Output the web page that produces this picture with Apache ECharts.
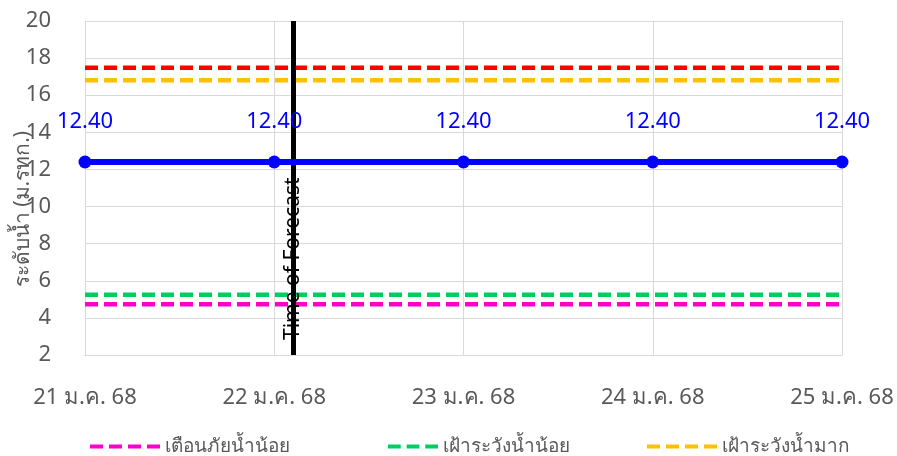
<!DOCTYPE html>
<html>
<head>
<meta charset="utf-8">
<script src="https://cdn.jsdelivr.net/npm/echarts@6/dist/echarts.min.js"></script>
<style>
html,body{margin:0;padding:0;background:#fff;}
#chart{width:897px;height:456px;}
</style>
</head>
<body>
<div id="chart"></div>
<script>
const dates = ['21 ม.ค. 68', '22 ม.ค. 68', '23 ม.ค. 68', '24 ม.ค. 68', '25 ม.ค. 68'];
const waterLevel = [12.40, 12.40, 12.40, 12.40, 12.40];
const lowWarning = [4.73, 4.73, 4.73, 4.73, 4.73];
const lowWatch = [5.25, 5.25, 5.25, 5.25, 5.25];
const highWatch = [16.81, 16.81, 16.81, 16.81, 16.81];
const highWarning = [17.48, 17.48, 17.48, 17.48, 17.48];
const forecastTime = 1.1;
const yTicks = [2, 4, 6, 8, 10, 12, 14, 16, 18, 20];

const FONT = '"Noto Sans", "Open Sans", sans-serif';
const toPts = arr => arr.map((v, i) => [i, v]);
const dash4 = 'path://M0 0H13V4H0Z M19 0H32V4H19Z M38 0H51V4H38Z M57 0H70V4H57Z';
const dash3 = 'path://M0 0H13V4H0Z M19 0H32V4H19Z M38 0H51V4H38Z';

const chart = echarts.init(document.getElementById('chart'));
const dashed = (name, color, data) => ({
  name, type: 'line', data: toPts(data), symbol: 'none', silent: true,
  lineStyle: { color, width: 4.5, type: [13, 6], cap: 'butt' },
  itemStyle: { color }, z: 2
});

chart.setOption({
  animation: false,
  textStyle: { fontFamily: FONT },
  grid: { left: 85, right: 55, top: 21, bottom: 101, containLabel: false, outerBoundsMode: 'none' },
  xAxis: {
    type: 'value', min: 0, max: dates.length - 1, interval: 1,
    axisLine: { show: true, lineStyle: { color: '#d9d9d9', width: 1 } },
    axisTick: { show: false },
    splitLine: { show: true, lineStyle: { color: '#d9d9d9', width: 1 } },
    axisLabel: {
      formatter: v => dates[v] || '', color: '#595959', fontSize: 22, margin: 32,
      fontFamily: FONT
    }
  },
  yAxis: {
    type: 'value', min: yTicks[0], max: yTicks[yTicks.length - 1], interval: 2,
    name: 'ระดับน้ำ (ม.รทก.)', nameLocation: 'middle', nameGap: 51, nameMoveOverlap: false,
    nameTextStyle: { color: '#595959', fontSize: 21, fontFamily: FONT, padding: [0, 42, 0, 0] },
    axisLine: { show: true, lineStyle: { color: '#d9d9d9' } },
    axisTick: { show: false },
    splitLine: { lineStyle: { color: '#d9d9d9', width: 1 } },
    axisLabel: { color: '#595959', fontSize: 22, margin: 34, fontFamily: FONT }
  },
  legend: [
    { left: 85, top: 432, itemWidth: 70, itemHeight: 5, itemGap: 0,
      data: [{ name: 'เตือนภัยน้ำน้อย', icon: dash4 }],
      textStyle: { color: '#595959', fontSize: 19, fontFamily: FONT } },
    { left: 383, top: 432, itemWidth: 50, itemHeight: 5, itemGap: 0,
      data: [{ name: 'เฝ้าระวังน้ำน้อย', icon: dash3 }],
      textStyle: { color: '#595959', fontSize: 19, fontFamily: FONT } },
    { left: 642, top: 432, itemWidth: 70, itemHeight: 5, itemGap: 0,
      data: [{ name: 'เฝ้าระวังน้ำมาก', icon: dash4 }],
      textStyle: { color: '#595959', fontSize: 19, fontFamily: FONT } }
  ],
  series: [
    dashed('เตือนภัยน้ำน้อย', '#FF00CC', lowWarning),
    dashed('เฝ้าระวังน้ำน้อย', '#00CC66', lowWatch),
    dashed('เฝ้าระวังน้ำมาก', '#FFC000', highWatch),
    dashed('เตือนภัยน้ำมาก', '#FF0000', highWarning),
    {
      name: 'ระดับน้ำ', type: 'line', data: toPts(waterLevel),
      symbol: 'circle', symbolSize: 13, z: 5,
      lineStyle: { color: '#0000FF', width: 6 },
      itemStyle: { color: '#0000FF' },
      label: {
        show: true, position: 'top', distance: 23,
        formatter: p => p.value[1].toFixed(2),
        color: '#0000FF', fontSize: 22, fontFamily: FONT
      },
      markLine: {
        silent: true, symbol: 'none',
        data: [{ xAxis: forecastTime }],
        lineStyle: { color: '#000', width: 5, type: 'solid' },
        label: {
          show: true, formatter: 'Time of Forecast', position: 'insideStart',
          distance: 15, color: '#000', fontSize: 21, fontFamily: FONT
        }
      }
    }
  ]
});
</script>
</body>
</html>
